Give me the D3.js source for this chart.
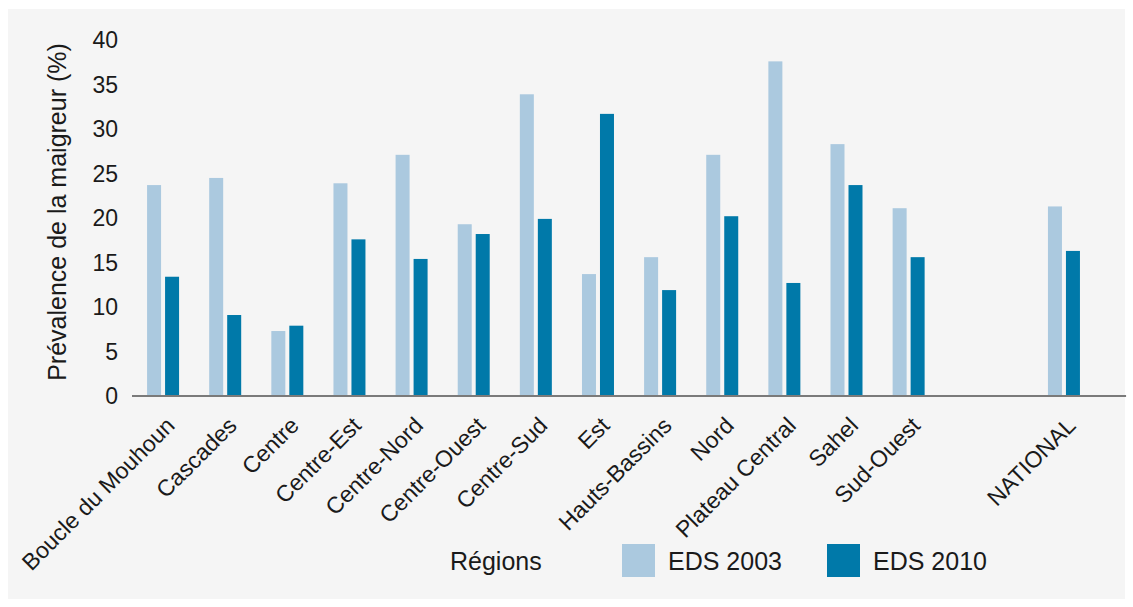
<!DOCTYPE html>
<html>
<head>
<meta charset="utf-8">
<script src="https://cdn.jsdelivr.net/npm/d3@7"></script>
<style>
  body { margin: 0; background: #fff; }
  text { font-family: "Liberation Sans", Arial, sans-serif; fill: #1a1a1a; }
</style>
</head>
<body>
<svg id="chart" width="1133" height="607"></svg>
<script>
const regions = ['Boucle du Mouhoun', 'Cascades', 'Centre', 'Centre-Est', 'Centre-Nord', 'Centre-Ouest',
  'Centre-Sud', 'Est', 'Hauts-Bassins', 'Nord', 'Plateau Central', 'Sahel', 'Sud-Ouest']
const national = 'NATIONAL'
const categories = regions.concat([national])
const eds2003 = [23.7, 24.5, 7.3, 23.9, 27.1, 19.3, 33.9, 13.7, 15.6, 27.1, 37.6, 28.3, 21.1, 21.3]
const eds2010 = [13.4, 9.1, 7.9, 17.6, 15.4, 18.2, 19.9, 31.7, 11.9, 20.2, 12.7, 23.7, 15.6, 16.3]
const series = ['EDS 2003', 'EDS 2010']
const yTicks = [0, 5, 10, 15, 20, 25, 30, 35, 40]

const colors = { 'EDS 2003': '#abc9df', 'EDS 2010': '#0079a9' }

const svg = d3.select('#chart')

// grey panel
svg.append('rect')
  .attr('x', 8).attr('y', 9)
  .attr('width', 1117).attr('height', 590)
  .attr('fill', '#f5f5f5')

const step = 62.13
const left = 132
// one empty slot between the regions and the national value
const x = d3.scaleBand()
  .domain(regions.concat(['_gap', national]))
  .range([left, left + 15 * step])
const centre = d => x(d) + x.bandwidth() / 2 + (d === national ? step / 2 : 0)

const inner = d3.scaleBand()
  .domain(series)
  .range([-16, 16])
  .paddingInner(4 / 18)

const y = d3.scaleLinear().domain([0, 40]).range([396, 40])

const rows = categories.map((c, i) => ({ cat: c, vals: [eds2003[i], eds2010[i]] }))

const groups = svg.selectAll('.grp').data(rows).enter()
  .append('g')
  .attr('class', 'grp')
  .attr('transform', d => `translate(${centre(d.cat)},0)`)

groups.selectAll('rect')
  .data(d => d.vals.map((v, k) => ({ s: series[k], v })))
  .enter().append('rect')
  .attr('x', d => inner(d.s))
  .attr('width', inner.bandwidth())
  .attr('y', d => y(d.v))
  .attr('height', d => y(0) - y(d.v))
  .attr('fill', d => colors[d.s])

// x axis line
svg.append('line')
  .attr('x1', left).attr('x2', left + 16 * step)
  .attr('y1', y(0)).attr('y2', y(0))
  .attr('stroke', '#7a7a7a').attr('stroke-width', 2)

// y tick labels
svg.selectAll('.ytick').data(yTicks).enter()
  .append('text')
  .attr('class', 'ytick')
  .attr('x', 118)
  .attr('y', d => y(d))
  .attr('dy', '0.36em')
  .attr('text-anchor', 'end')
  .style('font-size', '23px')
  .text(d => d)

// category labels
svg.selectAll('.xlab').data(categories).enter()
  .append('text')
  .attr('class', 'xlab')
  .attr('transform', d => `translate(${centre(d) + 13},427) rotate(-45)`)
  .attr('text-anchor', 'end')
  .style('font-size', '23px')
  .text(d => d)

// y axis title
svg.append('text')
  .attr('transform', 'translate(66,212) rotate(-90)')
  .attr('text-anchor', 'middle')
  .style('font-size', '25px')
  .text('Prévalence de la maigreur (%)')

// legend
svg.append('text')
  .attr('x', 450).attr('y', 570)
  .style('font-size', '25px')
  .text('Régions')

const legX = d3.scaleOrdinal().domain(series).range([622, 827])
const leg = svg.selectAll('.leg').data(series).enter()
  .append('g')
  .attr('class', 'leg')
  .attr('transform', d => `translate(${legX(d)},544)`)
leg.append('rect')
  .attr('width', 33).attr('height', 33)
  .attr('fill', d => colors[d])
leg.append('text')
  .attr('x', 46).attr('y', 26)
  .style('font-size', '25px')
  .text(d => d)
</script>
</body>
</html>
